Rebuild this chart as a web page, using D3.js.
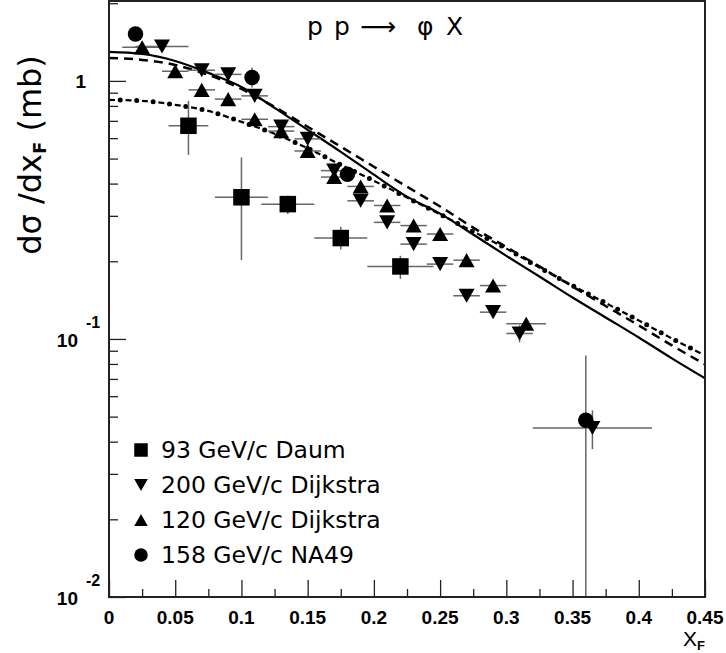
<!DOCTYPE html>
<html>
<head>
<meta charset="utf-8">
<script src="https://cdn.jsdelivr.net/npm/d3@7"></script>
<style>
  body { margin: 0; background: #fff; }
  svg { display: block; }
</style>
</head>
<body>
<div id="chart"></div>
<script>
// data
// [xF, dsigma/dxF, x half-width, y low, y high]
const daum93 = [
  [0.06, 0.67, 0.015, 0.517, 0.837],
  [0.10, 0.354, 0.02, 0.202, 0.505],
  [0.135, 0.333, 0.02, 0.305, 0.36],
  [0.175, 0.246, 0.02, 0.222, 0.272],
  [0.22, 0.191, 0.025, 0.171, 0.21]
];
const dijkstra200 = [
  [0.04, 1.36, 0.02, 1.36, 1.36],
  [0.07, 1.10, 0.01, 1.10, 1.10],
  [0.09, 1.06, 0.01, 1.06, 1.06],
  [0.11, 0.875, 0.01, 0.875, 0.875],
  [0.13, 0.665, 0.01, 0.665, 0.665],
  [0.15, 0.596, 0.01, 0.596, 0.596],
  [0.17, 0.449, 0.01, 0.449, 0.449],
  [0.19, 0.343, 0.01, 0.343, 0.343],
  [0.21, 0.283, 0.01, 0.283, 0.283],
  [0.23, 0.233, 0.01, 0.233, 0.233],
  [0.25, 0.195, 0.01, 0.195, 0.195],
  [0.27, 0.147, 0.01, 0.147, 0.147],
  [0.29, 0.127, 0.01, 0.127, 0.127],
  [0.31, 0.105, 0.01, 0.097, 0.113],
  [0.365, 0.0452, 0.045, 0.0374, 0.0529]
];
const dijkstra120 = [
  [0.025, 1.35, 0.015, 1.35, 1.35],
  [0.05, 1.09, 0.01, 1.09, 1.09],
  [0.07, 0.923, 0.01, 0.923, 0.923],
  [0.09, 0.85, 0.01, 0.85, 0.85],
  [0.11, 0.71, 0.01, 0.71, 0.71],
  [0.13, 0.639, 0.01, 0.639, 0.639],
  [0.15, 0.535, 0.01, 0.535, 0.535],
  [0.17, 0.424, 0.01, 0.424, 0.424],
  [0.19, 0.390, 0.01, 0.390, 0.390],
  [0.21, 0.329, 0.01, 0.329, 0.329],
  [0.23, 0.275, 0.01, 0.275, 0.275],
  [0.25, 0.255, 0.01, 0.255, 0.255],
  [0.27, 0.202, 0.01, 0.202, 0.202],
  [0.29, 0.161, 0.01, 0.161, 0.161],
  [0.315, 0.1145, 0.015, 0.1145, 0.1145]
];
const na49 = [
  [0.02, 1.52, 0, 1.52, 1.52],
  [0.108, 1.03, 0, 0.942, 1.125],
  [0.18, 0.435, 0, 0.435, 0.435],
  [0.36, 0.0484, 0, 0.001, 0.0863]
];

// model curves
const curveX = [0, 0.025, 0.05, 0.075, 0.1, 0.125, 0.15, 0.175, 0.2, 0.225, 0.25,
  0.275, 0.3, 0.325, 0.35, 0.375, 0.4, 0.425, 0.45];
const solidY = [1.295, 1.272, 1.195, 1.074, 0.948, 0.786, 0.646, 0.531, 0.433, 0.356, 0.306,
  0.254, 0.210, 0.1745, 0.1447, 0.1211, 0.1013, 0.0841, 0.0704];
const dashedY = [1.227, 1.206, 1.153, 1.055, 0.931, 0.793, 0.664, 0.556, 0.465, 0.389, 0.326,
  0.270, 0.227, 0.191, 0.1596, 0.1342, 0.1128, 0.0944, 0.0797];
const dashDotY = [0.844, 0.837, 0.808, 0.765, 0.694, 0.624, 0.548, 0.473, 0.410, 0.353, 0.304,
  0.2605, 0.224, 0.189, 0.161, 0.1378, 0.1179, 0.1004, 0.0863];

const xTicksMajor = [0, 0.05, 0.1, 0.15, 0.2, 0.25, 0.3, 0.35, 0.4, 0.45];
const xTickLabels = ["0", "0.05", "0.1", "0.15", "0.2", "0.25", "0.3", "0.35", "0.4", "0.45"];
const xTicksMinor = [0.025, 0.075, 0.125, 0.175, 0.225, 0.275, 0.325, 0.375, 0.425];
const yTicksMajor = [0.01, 0.1, 1];
const yTicksMinor = [0.02, 0.03, 0.04, 0.05, 0.06, 0.07, 0.08, 0.09,
  0.2, 0.3, 0.4, 0.5, 0.6, 0.7, 0.8, 0.9, 2];
const legendNames = ["93 GeV/c Daum", "200 GeV/c Dijkstra", "120 GeV/c Dijkstra", "158 GeV/c NA49"];

const width = 726, height = 653;
const plot = { left: 109, right: 705, top: 1, bottom: 597 };

const svg = d3.select("#chart").append("svg")
  .attr("width", width)
  .attr("height", height);

const x = d3.scaleLinear().domain([0, 0.45]).range([plot.left, plot.right]);
const y = d3.scaleLog().domain([0.01, 2.04]).range([plot.bottom, plot.top]);

svg.append("clipPath").attr("id", "clip")
  .append("rect")
  .attr("x", plot.left).attr("y", plot.top)
  .attr("width", plot.right - plot.left).attr("height", plot.bottom - plot.top);

const inner = svg.append("g").attr("clip-path", "url(#clip)");

//curves
const line = d3.line()
  .x((d) => x(d[0]))
  .y((d) => y(d[1]))
  .curve(d3.curveMonotoneX);

const solidPts = curveX.map((v, i) => [v, solidY[i]]);
const dashedPts = curveX.map((v, i) => [v, dashedY[i]]);
const dashDotPts = curveX.map((v, i) => [v, dashDotY[i]]);

inner.append("path").attr("d", line(solidPts))
  .attr("fill", "none").attr("stroke", "#000").attr("stroke-width", 2.2);
inner.append("path").attr("d", line(dashedPts))
  .attr("fill", "none").attr("stroke", "#000").attr("stroke-width", 2.5)
  .attr("stroke-dasharray", "9,6");
inner.append("path").attr("d", line(dashDotPts))
  .attr("fill", "none").attr("stroke", "#000").attr("stroke-width", 2.2)
  .attr("stroke-dasharray", "6,10.5");
inner.append("path").attr("d", line(dashDotPts))
  .attr("fill", "none").attr("stroke", "#000").attr("stroke-width", 5)
  .attr("stroke-linecap", "round")
  .attr("stroke-dasharray", "0,16.5").attr("stroke-dashoffset", -11.2);

// marker shapes
const triUp = (s) => `M${-s / 2},${s * 0.44}L${s / 2},${s * 0.44}L0,${-s * 0.44}Z`;
const triDown = (s) => `M${-s / 2},${-s * 0.44}L${s / 2},${-s * 0.44}L0,${s * 0.44}Z`;
const square = (s) => `M${-s / 2},${-s / 2}h${s}v${s}h${-s}Z`;
const circle = (s) => `M${s / 2},0A${s / 2},${s / 2} 0 1,1 ${-s / 2},0A${s / 2},${s / 2} 0 1,1 ${s / 2},0Z`;

const series = [
  { data: daum93, shape: square, size: 16.5 },
  { data: dijkstra200, shape: triDown, size: 16 },
  { data: dijkstra120, shape: triUp, size: 16 },
  { data: na49, shape: circle, size: 15.5 }
];

//error bars first, then markers
series.forEach((s) => {
  const g = inner.append("g");
  s.data.forEach((d) => {
    if (d[2] > 0) {
      g.append("line")
        .attr("x1", x(d[0] - d[2])).attr("x2", x(d[0] + d[2]))
        .attr("y1", y(d[1])).attr("y2", y(d[1]))
        .attr("stroke", "#666").attr("stroke-width", 1.5);
    }
    if (d[3] !== d[4]) {
      g.append("line")
        .attr("x1", x(d[0])).attr("x2", x(d[0]))
        .attr("y1", y(d[3])).attr("y2", y(d[4]))
        .attr("stroke", "#666").attr("stroke-width", 1.5);
    }
  });
});
series.forEach((s) => {
  inner.append("g").selectAll("path")
    .data(s.data)
    .enter()
    .append("path")
    .attr("d", s.shape(s.size))
    .attr("transform", (d) => `translate(${x(d[0])},${y(d[1])})`)
    .attr("fill", "#000");
});

//axes (ticks point into the frame)
svg.append("g")
  .attr("transform", `translate(0,${plot.bottom})`)
  .call(d3.axisBottom(x).tickValues(xTicksMajor).tickSize(-17).tickFormat(""))
  .call((g) => g.select(".domain").remove());
svg.append("g")
  .attr("transform", `translate(0,${plot.bottom})`)
  .call(d3.axisBottom(x).tickValues(xTicksMinor).tickSize(-8).tickFormat(""))
  .call((g) => g.select(".domain").remove());
svg.append("g")
  .attr("transform", `translate(${plot.left},0)`)
  .call(d3.axisLeft(y).tickValues(yTicksMajor).tickSize(-17).tickFormat(""))
  .call((g) => g.select(".domain").remove());
svg.append("g")
  .attr("transform", `translate(${plot.left},0)`)
  .call(d3.axisLeft(y).tickValues(yTicksMinor).tickSize(-9).tickFormat(""))
  .call((g) => g.select(".domain").remove());
svg.selectAll(".tick line").attr("stroke", "#222").attr("stroke-width", 1.3);

//frame
svg.append("rect")
  .attr("x", plot.left).attr("y", plot.top)
  .attr("width", plot.right - plot.left).attr("height", plot.bottom - plot.top)
  .attr("fill", "none").attr("stroke", "#222").attr("stroke-width", 2);

//tick labels
const labelFont = "'Liberation Sans', Arial, sans-serif";
svg.append("g").selectAll("text")
  .data(xTicksMajor)
  .enter()
  .append("text")
  .attr("x", (d) => x(d))
  .attr("y", 624)
  .attr("text-anchor", "middle")
  .style("font-family", labelFont)
  .style("font-weight", "bold")
  .style("font-size", "19px")
  .text((d, i) => xTickLabels[i]);

yTicksMajor.forEach((v) => {
  const yy = y(v);
  const exp = Math.round(Math.log10(v));
  if (exp === 0) {
    svg.append("text")
      .attr("x", 86).attr("y", yy + 7)
      .attr("text-anchor", "end")
      .style("font-family", labelFont).style("font-weight", "bold").style("font-size", "19px")
      .text("1");
  } else {
    svg.append("text")
      .attr("x", 78).attr("y", yy + 8)
      .attr("text-anchor", "end")
      .style("font-family", labelFont).style("font-weight", "bold").style("font-size", "19px")
      .text("10");
    svg.append("text")
      .attr("x", 86).attr("y", yy - 11)
      .attr("text-anchor", "start")
      .style("font-family", labelFont).style("font-weight", "bold").style("font-size", "16px")
      .text(String(exp));
  }
});

//axis titles
const titleFont = "'DejaVu Sans', sans-serif";
const yTitle = svg.append("text")
  .attr("transform", "translate(41,155) rotate(-90)")
  .attr("text-anchor", "middle")
  .style("font-family", titleFont)
  .style("font-size", "32px");
yTitle.append("tspan").text("dσ /dx");
yTitle.append("tspan").attr("dy", 5).style("font-size", "18px").style("font-weight", "bold").text("F");
yTitle.append("tspan").attr("dy", -5).text(" (mb)");

const xTitle = svg.append("text")
  .attr("x", 705).attr("y", 646)
  .attr("text-anchor", "end")
  .style("font-family", labelFont)
  .style("font-size", "21px");
xTitle.append("tspan").text("X");
xTitle.append("tspan").attr("dy", 4).style("font-size", "13px").style("font-weight", "bold").text("F");

//reaction label
const title = svg.append("text")
  .attr("y", 35)
  .style("font-family", titleFont)
  .style("font-size", "25px");
title.append("tspan").attr("x", 307).text("p");
title.append("tspan").attr("x", 334).text("p");
title.append("tspan").attr("x", 360).text("⟶");
title.append("tspan").attr("x", 417).text("φ");
title.append("tspan").attr("x", 446).text("X");

//legend
const legend = svg.append("g");
const legendShapes = [square, triDown, triUp, circle];
legendNames.forEach((name, i) => {
  const ly = 450 + i * 35;
  legend.append("path")
    .attr("d", legendShapes[i](13.5))
    .attr("transform", `translate(141,${ly})`)
    .attr("fill", "#000");
  legend.append("text")
    .attr("x", 161).attr("y", ly + 8)
    .style("font-family", titleFont)
    .style("font-size", "23.5px")
    .text(name);
});
</script>
</body>
</html>
